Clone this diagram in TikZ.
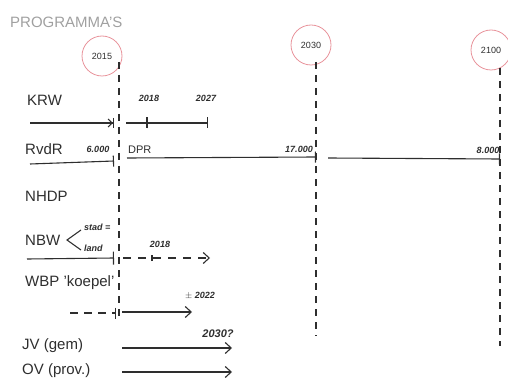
\documentclass[tikz,border=0pt]{standalone}
\usepackage{fontspec}
\setmainfont{Liberation Sans}
\usetikzlibrary{arrows.meta}
\definecolor{ink}{HTML}{2E2E2E}
\definecolor{pinkred}{HTML}{E8939B}
\definecolor{titlegray}{HTML}{A0A0A0}

\begin{document}
\begin{tikzpicture}[x=1pt,y=-1pt,font=\fontsize{15}{17}\selectfont,>={Straight Barb[length=6pt,width=11pt]},
    year/.style={draw=pinkred,thick,circle,minimum size=40pt,inner sep=0pt,text=ink,font=\fontsize{9}{10}\selectfont},
    rowlabel/.style={anchor=west,inner sep=0pt,text=ink},
    small/.style={inner sep=0pt,text=ink,font=\fontsize{9}{10}\selectfont\bfseries\itshape},
    timeline/.style={draw=ink,line width=1.2pt,dash pattern=on 7pt off 6pt},
    bar/.style={draw=ink,line width=1.1pt,-{Bar[width=11pt]}},
    plan/.style={draw=ink,line width=1.1pt}]
  \useasboundingbox (0,0) rectangle (508,382);

  \node[anchor=west,inner sep=0pt,text=titlegray] (title) at (10,22) {PROGRAMMA'S};

  \node[year] (y2015) at (102,56) {2015};
  \node[year] (y2030) at (311,45) {2030};
  \node[year] (y2100) at (491,50) {2100};

  \coordinate (top2015) at (119,62);
  \coordinate (bot2015) at (119,318);
  \coordinate (top2030) at (316,62);
  \coordinate (bot2030) at (316,336);
  \coordinate (top2100) at (500,68);
  \coordinate (bot2100) at (500,346);
  \draw[timeline] (top2015) -- (bot2015);
  \draw[timeline] (top2030) -- (bot2030);
  \draw[timeline] (top2100) -- (bot2100);

  % KRW
  \node[rowlabel] (krw) at (27,100) {KRW};
  \coordinate (krwA) at (30,123);
  \coordinate (krwB) at (114,123);
  \coordinate (krwC) at (126,123);
  \coordinate (krwD) at (147,123);
  \coordinate (krwE) at (208,123);
  \node[small] (krw18) at (149,98) {2018};
  \node[small] (krw27) at (206,98) {2027};
  \draw[plan,-{Straight Barb[length=4pt,width=8pt]Bar[width=10pt]}] (krwA) -- (krwB);
  \draw[bar] (krwC) -- (krwD);
  \draw[plan,{Bar[width=11pt]}-{Bar[width=11pt]}] (krwD) -- (krwE);

  % RvdR
  \node[rowlabel] (rvdr) at (25,149) {RvdR};
  \node[small] (r6000) at (98,149) {6.000};
  \node[rowlabel,font=\fontsize{11}{12}\selectfont] (dpr) at (128,150) {DPR};
  \node[small] (r17000) at (299,149) {17.000};
  \node[small] (r8000) at (488,150) {8.000};
  \coordinate (rvA) at (30,164);
  \coordinate (rvB) at (114,161);
  \coordinate (rvC) at (127,158);
  \coordinate (rvD) at (316,157);
  \coordinate (rvE) at (328,158);
  \coordinate (rvF) at (500,159);
  \draw[plan,-{Bar[width=11pt]}] (rvA) -- (rvB);
  \draw[plan,-{Bar[width=11pt]}] (rvC) -- (rvD);
  \draw[plan,-{Bar[width=11pt]}] (rvE) -- (rvF);

  % NHDP
  \node[rowlabel] (nhdp) at (25,196) {NHDP};

  % NBW
  \node[rowlabel] (nbw) at (25,240) {NBW};
  \coordinate (nbwV) at (67,240);
  \coordinate (nbwT) at (81,230);
  \coordinate (nbwL) at (81,250);
  \draw[plan] (nbwT) -- (nbwV) -- (nbwL);
  \node[small,anchor=west] (stad) at (84,227) {stad =};
  \node[small,anchor=west] (land) at (84,248) {land};
  \node[small] (nbw18) at (160,244) {2018};
  \coordinate (nbwA) at (27,259);
  \coordinate (nbwB) at (114,258);
  \coordinate (nbwC) at (123,258);
  \coordinate (nbwD) at (210,258);
  \coordinate (nbwK) at (152,258);
  \draw[plan,-{Bar[width=13pt]}] (nbwA) -- (nbwB);
  \draw[plan,dash pattern=on 8pt off 7pt,->] (nbwC) -- (nbwD);
  \draw[plan] ([yshift=-3pt]nbwK) -- ([yshift=3pt]nbwK);

  % WBP
  \node[rowlabel] (wbp) at (25,283) {WBP 'koepel'};
  \node[small] (wbp22) at (200,296) {$\pm$ 2022};
  \coordinate (wbpA) at (70,313);
  \coordinate (wbpB) at (116,313);
  \coordinate (wbpC) at (122,312);
  \coordinate (wbpD) at (192,312);
  \draw[plan,dash pattern=on 8pt off 6pt,-{Bar[width=11pt]}] (wbpA) -- (wbpB);
  \draw[plan,->] (wbpC) -- (wbpD);

  % JV / OV
  \node[rowlabel] (jv) at (22,346) {JV (gem)};
  \node[rowlabel] (ov) at (22,371) {OV (prov.)};
  \node[small,font=\fontsize{11}{12}\selectfont\bfseries\itshape] (jv30) at (218,334) {2030?};
  \coordinate (jvA) at (122,348);
  \coordinate (jvB) at (232,348);
  \coordinate (ovA) at (122,372);
  \coordinate (ovB) at (232,372);
  \draw[plan,->] (jvA) -- (jvB);
  \draw[plan,->] (ovA) -- (ovB);
\end{tikzpicture}
\end{document}
